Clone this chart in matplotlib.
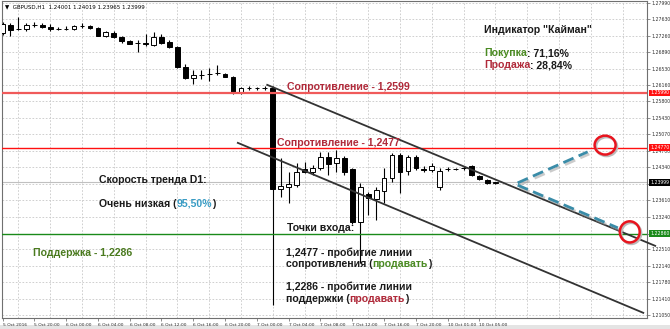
import numpy as np
import matplotlib
matplotlib.use("Agg")
import matplotlib.pyplot as plt
import matplotlib.patheffects as pe
from matplotlib.patches import Ellipse, Rectangle
import matplotlib.transforms as mtransforms

# --- данные свечей GBPUSD H1 ---
opens = [1.2732, 1.2750, 1.2741, 1.2741, 1.2750, 1.2750, 1.2746, 1.2741, 1.2741, 1.2741,
         1.2748, 1.2748, 1.2743, 1.2726, 1.2732, 1.2723, 1.2714, 1.2710, 1.2710, 1.2706,
         1.2723, 1.2712, 1.2701, 1.2657, 1.2632, 1.2639, 1.2641, 1.2643, 1.2641, 1.2634,
         1.2599, 1.2610, 1.2610, 1.2610, 1.2610, 1.2385, 1.2390, 1.2394, 1.2430, 1.2423,
         1.2432, 1.2457, 1.2443, 1.2454, 1.2430, 1.2312, 1.2374, 1.2363, 1.2381, 1.2410,
         1.2461, 1.2425, 1.2457, 1.2430, 1.2428, 1.2390, 1.2430, 1.2430, 1.2432, 1.2437,
         1.2414, 1.2405, 1.2399]
highs = [1.2757, 1.2754, 1.2768, 1.2754, 1.2757, 1.2754, 1.2752, 1.2746, 1.2748, 1.2750,
         1.2754, 1.2750, 1.2746, 1.2737, 1.2737, 1.2726, 1.2717, 1.2717, 1.2730, 1.2735,
         1.2730, 1.2717, 1.2703, 1.2663, 1.2650, 1.2650, 1.2654, 1.2661, 1.2643, 1.2637,
         1.2612, 1.2614, 1.2612, 1.2614, 1.2614, 1.2454, 1.2423, 1.2443, 1.2445, 1.2439,
         1.2468, 1.2468, 1.2472, 1.2459, 1.2432, 1.2399, 1.2379, 1.2390, 1.2432, 1.2465,
         1.2465, 1.2461, 1.2461, 1.2437, 1.2443, 1.2432, 1.2434, 1.2432, 1.2437, 1.2439,
         1.2417, 1.2408, 1.2401]
lows = [1.2728, 1.2726, 1.2739, 1.2737, 1.2746, 1.2743, 1.2737, 1.2739, 1.2739, 1.2739,
        1.2743, 1.2741, 1.2726, 1.2723, 1.2721, 1.2710, 1.2708, 1.2690, 1.2703, 1.2703,
        1.2708, 1.2699, 1.2654, 1.2630, 1.2619, 1.2630, 1.2626, 1.2639, 1.2634, 1.2597,
        1.2597, 1.2606, 1.2606, 1.2606, 1.2127, 1.2368, 1.2354, 1.2390, 1.2421, 1.2417,
        1.2428, 1.2417, 1.2423, 1.2417, 1.2308, 1.2221, 1.2328, 1.2316, 1.2354, 1.2401,
        1.2376, 1.2417, 1.2428, 1.2423, 1.2423, 1.2383, 1.2425, 1.2428, 1.2428, 1.2414,
        1.2405, 1.2396, 1.2396]
closes = [1.2752, 1.2739, 1.2741, 1.2750, 1.2750, 1.2746, 1.2741, 1.2741, 1.2741, 1.2748,
          1.2748, 1.2743, 1.2726, 1.2735, 1.2723, 1.2714, 1.2708, 1.2710, 1.2708, 1.2723,
          1.2710, 1.2701, 1.2657, 1.2632, 1.2639, 1.2639, 1.2641, 1.2643, 1.2634, 1.2599,
          1.2610, 1.2610, 1.2610, 1.2610, 1.2385, 1.2392, 1.2396, 1.2423, 1.2423, 1.2432,
          1.2457, 1.2441, 1.2454, 1.2423, 1.2312, 1.2390, 1.2365, 1.2383, 1.2410, 1.2461,
          1.2423, 1.2457, 1.2432, 1.2428, 1.2437, 1.2425, 1.2430, 1.2430, 1.2432, 1.2417,
          1.2408, 1.2399, 1.23999]

time_labels = ["5 Oct 2016", "5 Oct 20:00", "6 Oct 00:00", "6 Oct 04:00", "6 Oct 08:00",
               "6 Oct 12:00", "6 Oct 16:00", "6 Oct 20:00", "7 Oct 00:00", "7 Oct 04:00",
               "7 Oct 08:00", "7 Oct 12:00", "7 Oct 16:00", "7 Oct 20:00", "10 Oct 01:00",
               "10 Oct 05:00"]
price_ticks = [1.27990, 1.27630, 1.27260, 1.26890, 1.26530, 1.26160, 1.25800, 1.25430,
               1.25070, 1.24700, 1.24340, 1.23970, 1.23610, 1.23240, 1.22860, 1.22510,
               1.22140, 1.21780, 1.21410, 1.21050]

resist_1 = 1.2599
resist_2 = 1.2477
support = 1.2286
last_price = 1.23999

# линии канала и стрелки (бар, цена)
upper_x, upper_y = [33.3, 82.1], [1.2617, 1.2259]
lower_x, lower_y = [29.6, 80.6], [1.2488, 1.2110]
arrow_up_x, arrow_up_y = [64.8, 73.6], [1.2399, 1.2468]
arrow_dn_x, arrow_dn_y = [64.8, 77.4], [1.2394, 1.2299]
circle_up = (75.8, 1.2483)
circle_dn = (78.9, 1.2290)

W, H = 670, 329
fig = plt.figure(figsize=(W / 100, H / 100), dpi=100)
fig.patch.set_facecolor("white")
ax = fig.add_axes([2 / W, 11 / H, 645 / W, 317 / H])

ax.set_xlim(-0.063, 81.07)
ax.set_ylim(1.20985, 1.28035)

# сетка
for p in price_ticks:
    ax.axhline(p, color="#c8c8c8", lw=0.6, ls=(0, (2, 2)), zorder=0)
for gx in np.arange(2, 82, 4):
    ax.axvline(gx, color="#c8c8c8", lw=0.6, ls=(0, (2, 2)), zorder=0)

# свечи
idx = np.arange(len(opens))
o = np.array(opens)
c = np.array(closes)
ax.vlines(idx, lows, highs, color="black", lw=0.8, zorder=2)
bull = c >= o
ax.bar(idx[bull], (c - o)[bull], bottom=o[bull], width=0.6, facecolor="white",
       edgecolor="black", lw=0.7, zorder=3)
ax.bar(idx[~bull], (o - c)[~bull], bottom=c[~bull], width=0.6, facecolor="black",
       edgecolor="black", lw=0.7, zorder=3)

# горизонтальные уровни
ax.axhline(last_price, color="#c0c0c0", lw=0.8, zorder=1)
ax.axhline(resist_1, color="#f05a5a", lw=1.6, zorder=4)
ax.axhline(resist_2, color="#ff1010", lw=1.0, zorder=4)
ax.axhline(support, color="#1a8a1a", lw=1.0, zorder=4)

# канал
ax.plot(upper_x, upper_y, color="#333333", lw=1.3, zorder=5, clip_on=False)
ax.plot(lower_x, lower_y, color="#333333", lw=1.3, zorder=5, clip_on=False)

shadow = [pe.SimpleLineShadow(offset=(1.2, -1.5), shadow_color="#999999", alpha=0.5),
          pe.Normal()]
for xs, ys in [(arrow_up_x, arrow_up_y), (arrow_dn_x, arrow_dn_y)]:
    ax.plot(xs, ys, color="#3a8ca8", lw=2.0, ls=(0, (4, 2)), zorder=6,
            path_effects=shadow)

for (cx, cy), w, h in [(circle_up, 2.64, 0.0042), (circle_dn, 2.5, 0.0047)]:
    ax.add_patch(Ellipse((cx + 0.18, cy - 0.00033), w, h, facecolor="none",
                         edgecolor="#bbbbbb", lw=1.8, zorder=6))
    ax.add_patch(Ellipse((cx, cy), w, h, facecolor="none", edgecolor="#e8141e",
                         lw=1.8, zorder=7))

# оси
ax.set_xticks(np.arange(0, 64, 4))
ax.set_xticklabels(time_labels, fontsize=3.2, ha="left", color="#303030")
ax.tick_params(axis="x", length=2, width=0.5, pad=1.5, color="#606060")
ax.yaxis.tick_right()
shown = [p for p in price_ticks if abs(p - last_price) > 0.0005 and abs(p - support) > 0.0005]
ax.set_yticks(price_ticks)
ax.set_yticklabels(["%.5f" % p if p in shown else "" for p in price_ticks],
                   fontsize=3.3, color="#303030")
ax.tick_params(axis="y", length=2, width=0.5, pad=1.5, color="#606060")
for s in ax.spines.values():
    s.set_color("#707070")
    s.set_linewidth(0.8)

trans = mtransforms.blended_transform_factory(ax.transAxes, ax.transData)
for val, txt, col in [(resist_1, "1.25990", "#ff1010"), (resist_2, "1.24770", "#ff1010"),
                      (last_price, "1.23999", "black"), (support, "1.22860", "#1a8a1a")]:
    ax.text(1.005, val, txt, transform=trans, fontsize=3.3, color="white", va="center",
            ha="left", bbox=dict(boxstyle="square,pad=0.2", fc=col, ec="none"),
            clip_on=False, zorder=10)

fig.text(5 / W, 1 - 6.5 / H, "\u25bc  GBPUSD,H1  1.24001 1.24019 1.23965 1.23999",
         fontsize=4, va="center", ha="left", color="black")

# надписи
FONT = ["Liberation Sans", "DejaVu Sans"]
renderer = fig.canvas.get_renderer()


def write(x, y, parts, size=7.6):
    for s, col in parts:
        t = fig.text(x / W, 1 - y / H, s, color=col, fontsize=size, fontweight="bold",
                     family=FONT, va="center", ha="left", zorder=20)
        x += t.get_window_extent(renderer=renderer).width


RED = "#b02a3a"
GRN = "#4a8a22"
BLK = "#1a1a1a"
write(287, 87, [("Сопротивление - 1,2599", RED)])
write(277, 143, [("Сопротивление - 1,2477", RED)])
write(484, 30, [('Индикатор "Кайман"', BLK)])
write(484, 53, [("Покупка", GRN), (": 71,16%", BLK)])
write(484, 65, [("Продажа", RED), (": 28,84%", BLK)])
write(99, 180, [("Скорость тренда D1:", BLK)])
write(99, 204, [("Очень низкая (", BLK), ("95,50%", "#3a9cc4"), (")", BLK)])
write(33, 253, [("Поддержка - 1,2286", "#4a7a1e")])
write(287, 228, [("Точки входа:", BLK)])
write(286, 253, [("1,2477 - пробитие линии", BLK)])
write(286, 264, [("сопротивления (", BLK), ("продавать", GRN), (")", BLK)])
write(286, 287, [("1,2286 - пробитие линии", BLK)])
write(286, 299, [("поддержки (", BLK), ("продавать", RED), (")", BLK)])

fig.patches.append(Rectangle((0, 0), 1, 4 / H, transform=fig.transFigure,
                             facecolor="#e4e4e4", edgecolor="none", zorder=-1))

fig.savefig("out.png", dpi=100, facecolor="white")
